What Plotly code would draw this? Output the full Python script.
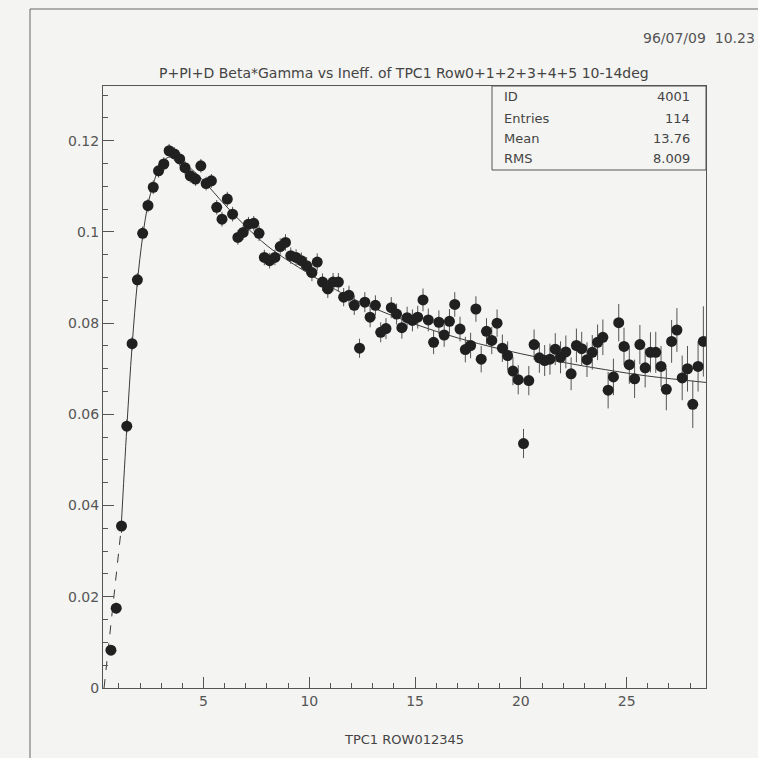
import plotly.graph_objects as go

# ---------------- data ----------------
bin_centers = [0.375 + 0.25 * i for i in range(114)]  # 114 bins of width 0.25 on [0.25, 28.75]

ineff = [None, 0.0083, 0.0175, 0.0355, 0.0574, 0.0755, 0.0895, 0.0997, 0.1058, 0.1098,
         0.1134, 0.1149, 0.1178, 0.1171, 0.1160, 0.1141, 0.1123, 0.1116, 0.1145, 0.1106,
         0.1112, 0.1054, 0.1028, 0.1072, 0.1039, 0.0988, 0.0999, 0.1017, 0.1019, 0.0997,
         0.0944, 0.0937, 0.0944, 0.0968, 0.0977, 0.0948, 0.0944, 0.0937, 0.0926, 0.0911,
         0.0934, 0.0890, 0.0875, 0.0890, 0.0890, 0.0857, 0.0861, 0.0839, 0.0745, 0.0846,
         0.0813, 0.0839, 0.0780, 0.0788, 0.0834, 0.0820, 0.0790, 0.0812, 0.0806, 0.0813,
         0.0851, 0.0807, 0.0758, 0.0802, 0.0774, 0.0804, 0.0841, 0.0787, 0.0742, 0.0751,
         0.0831, 0.0721, 0.0782, 0.0762, 0.0800, 0.0745, 0.0729, 0.0695, 0.0676, 0.0536,
         0.0674, 0.0753, 0.0724, 0.0718, 0.0721, 0.0743, 0.0725, 0.0737, 0.0689, 0.0751,
         0.0744, 0.0720, 0.0736, 0.0758, 0.0769, 0.0653, 0.0682, 0.0801, 0.0749, 0.0709,
         0.0678, 0.0753, 0.0702, 0.0736, 0.0736, 0.0705, 0.0655, 0.0760, 0.0785, 0.0680,
         0.0700, 0.0622, 0.0705, 0.0760]

ineff_err = [0, 0.0010, 0.0012, 0.0015, 0.0015, 0.0015, 0.0015, 0.0015, 0.0015, 0.0015,
             0.0015, 0.0015, 0.0015, 0.0015, 0.0015, 0.0015, 0.0015, 0.0015, 0.0015, 0.0015,
             0.0015, 0.0016, 0.0016, 0.0016, 0.0016, 0.0016, 0.0016, 0.0016, 0.0016, 0.0017,
             0.0017, 0.0017, 0.0017, 0.0018, 0.0018, 0.0018, 0.0018, 0.0018, 0.0019, 0.0019,
             0.0019, 0.0019, 0.0020, 0.0020, 0.0020, 0.0020, 0.0021, 0.0021, 0.0021, 0.0022,
             0.0022, 0.0022, 0.0022, 0.0023, 0.0023, 0.0023, 0.0024, 0.0024, 0.0024, 0.0025,
             0.0025, 0.0025, 0.0026, 0.0026, 0.0026, 0.0027, 0.0027, 0.0027, 0.0028, 0.0028,
             0.0028, 0.0029, 0.0029, 0.0030, 0.0030, 0.0030, 0.0031, 0.0031, 0.0032, 0.0032,
             0.0032, 0.0033, 0.0033, 0.0034, 0.0034, 0.0035, 0.0035, 0.0036, 0.0036, 0.0037,
             0.0037, 0.0038, 0.0038, 0.0039, 0.0039, 0.0040, 0.0040, 0.0041, 0.0041, 0.0042,
             0.0042, 0.0043, 0.0043, 0.0044, 0.0045, 0.0045, 0.0046, 0.0047, 0.0048, 0.0049,
             0.0050, 0.0052, 0.0055, 0.0077]

# fitted curve
fit_x = [1.1, 1.375, 1.625, 1.875, 2.125, 2.375, 2.625, 2.9, 3.2, 3.5, 3.9, 4.5, 5.0, 6.0,
         7.0, 8.0, 9.0, 10.0, 11.0, 12.0, 14.0, 16.0, 18.0, 20.0, 22.0, 24.0, 26.0, 28.75]
fit_y = [0.0345, 0.0570, 0.0750, 0.0890, 0.0990, 0.1060, 0.1105, 0.1140, 0.1160, 0.1165,
         0.1158, 0.1135, 0.1112, 0.1060, 0.1012, 0.0970, 0.0937, 0.0908, 0.0880, 0.0855,
         0.0815, 0.0782, 0.0755, 0.0733, 0.0714, 0.0698, 0.0684, 0.0670]
fit_ext_x = [0.3, 0.55, 0.8, 1.1]
fit_ext_y = [0.0, 0.011, 0.0215, 0.0345]

y_ticks = [0, 0.02, 0.04, 0.06, 0.08, 0.1, 0.12]
x_ticks = [5, 10, 15, 20, 25]

title_text = "P+PI+D Beta*Gamma vs Ineff. of TPC1 Row0+1+2+3+4+5 10-14deg"
x_title = "TPC1 ROW012345"
date_text = "96/07/09  10.23"
stats_labels = ["ID", "Entries", "Mean", "RMS"]
stats_values = ["4001", "114", "13.76", "8.009"]

# ---------------- layout geometry (pixels) ----------------
W = H = 758
L, R, T, B = 103, 706, 86, 688
FONT = "DejaVu Sans"
INK = "#3a3a3a"
BG = "#f4f4f2"

def px(x):
    return (x - L) / (R - L)

def py(y):
    return (B - y) / (B - T)

fig = go.Figure()

fig.add_trace(go.Scatter(
    x=fit_ext_x, y=fit_ext_y, mode="lines",
    line=dict(color=INK, width=1, dash="dash"), hoverinfo="skip", showlegend=False))
fig.add_trace(go.Scatter(
    x=fit_x, y=fit_y, mode="lines", line_shape="spline",
    line=dict(color=INK, width=1), hoverinfo="skip", showlegend=False))
fig.add_trace(go.Scatter(
    x=bin_centers, y=ineff, mode="markers",
    marker=dict(color="#202020", size=11, line=dict(width=0)),
    error_y=dict(type="data", array=ineff_err, visible=True,
                 color="#555555", thickness=1, width=0),
    showlegend=False))

axis_common = dict(
    showline=True, linecolor="#555555", linewidth=1, mirror=True,
    ticks="inside", tickcolor="#555555", showgrid=False, zeroline=False,
    tickfont=dict(family=FONT, size=14, color="#555555"),
)

fig.update_xaxes(range=[0.25, 28.75], tickvals=x_ticks, ticklen=11,
                 minor=dict(dtick=1, tick0=0, ticks="inside", ticklen=5, tickcolor="#555555"),
                 **axis_common)
fig.update_yaxes(range=[0, 0.132], tickvals=y_ticks, ticklen=11,
                 minor=dict(dtick=0.005, tick0=0, ticks="inside", ticklen=5, tickcolor="#555555"),
                 **axis_common)

ann = []
ann.append(dict(text=title_text, x=px(404), y=py(73), xref="paper", yref="paper",
                xanchor="center", yanchor="middle", showarrow=False,
                font=dict(family=FONT, size=14, color="#444444")))
ann.append(dict(text=date_text, x=px(757), y=py(38), xref="paper", yref="paper",
                xanchor="right", yanchor="middle", showarrow=False,
                font=dict(family=FONT, size=14, color="#555555")))
ann.append(dict(text=x_title, x=px(404), y=py(740), xref="paper", yref="paper",
                xanchor="center", yanchor="middle", showarrow=False,
                font=dict(family=FONT, size=13, color="#444444")))
row_y = [97, 118, 139, 159]
for lab, val, yy in zip(stats_labels, stats_values, row_y):
    ann.append(dict(text=lab, x=px(502), y=py(yy), xref="paper", yref="paper",
                    xanchor="left", yanchor="middle", showarrow=False,
                    font=dict(family=FONT, size=13, color="#444444")))
    ann.append(dict(text=val, x=px(692), y=py(yy), xref="paper", yref="paper",
                    xanchor="right", yanchor="middle", showarrow=False,
                    font=dict(family=FONT, size=13, color="#444444")))

shapes = [
    dict(type="rect", xref="paper", yref="paper", x0=px(492), x1=px(R), y0=py(170), y1=py(T),
         line=dict(color="#555555", width=1), fillcolor=BG, layer="above"),
    dict(type="line", xref="paper", yref="paper", x0=px(30), x1=px(758), y0=py(9), y1=py(9),
         line=dict(color="#666666", width=1)),
    dict(type="line", xref="paper", yref="paper", x0=px(30), x1=px(30), y0=py(9), y1=py(758),
         line=dict(color="#666666", width=1)),
]

fig.update_layout(
    width=W, height=H,
    margin=dict(l=L, r=W - R, t=T, b=H - B),
    paper_bgcolor=BG, plot_bgcolor=BG,
    annotations=ann, shapes=shapes,
    showlegend=False,
)

fig.write_html(
    "out.html",
    config={"displayModeBar": False},
    post_script="document.body.style.margin='0';document.body.style.overflow='hidden';"
                "document.documentElement.style.background='%s';" % BG,
)
